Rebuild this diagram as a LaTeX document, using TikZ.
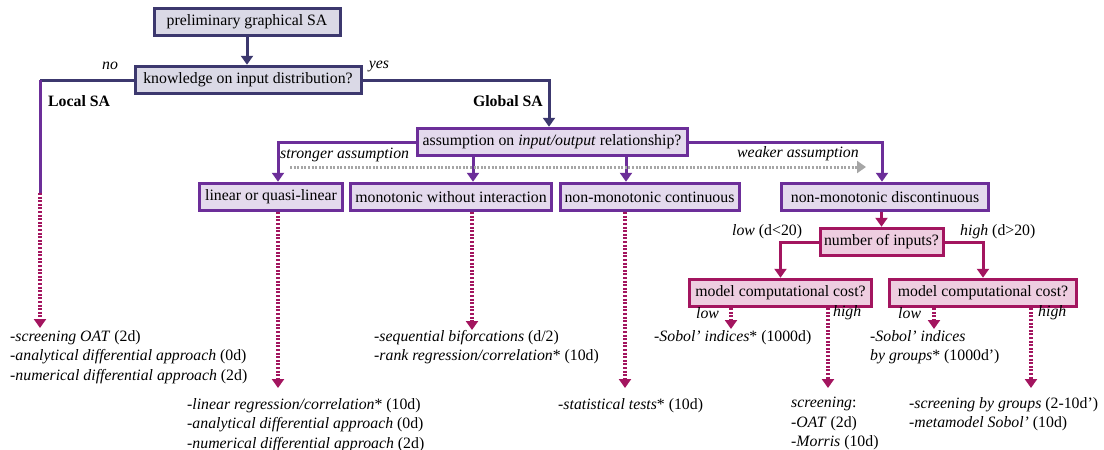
\documentclass[tikz,border=0pt]{standalone}
\usepackage{fontspec}
\setmainfont{Liberation Serif}
\usetikzlibrary{arrows.meta}
\definecolor{navy}{HTML}{3C386E}
\definecolor{navyfill}{HTML}{DAD9E6}
\definecolor{purp}{HTML}{6C2E99}
\definecolor{purpfill}{HTML}{E4DAED}
\definecolor{mag}{HTML}{A3155F}
\definecolor{magfill}{HTML}{EECDE0}
\definecolor{lightgray}{HTML}{A6A6A6}
\begin{document}
\begin{tikzpicture}[x=1pt,y=-1pt,
  every node/.style={font=\fontsize{15.8}{19.6}\selectfont, inner sep=0pt},
  box/.style={draw, line width=3pt, minimum height=27.5pt, anchor=center},
  navybox/.style={box, draw=navy, fill=navyfill},
  purpbox/.style={box, draw=purp, fill=purpfill},
  magbox/.style={box, draw=mag, fill=magfill},
  tip/.style={-{Triangle[width=12pt,length=9pt]}},
  conn/.style={line width=3pt},
  navyline/.style={conn, draw=navy},
  purpline/.style={conn, draw=purp},
  magline/.style={conn, draw=mag},
  magdots/.style={line width=3.2pt, draw=mag, dash pattern=on 2pt off 1.6pt},
  graydots/.style={line width=3pt, draw=lightgray, dash pattern=on 2pt off 1.6pt},
  lbl/.style={font=\fontsize{15.8}{19.6}\selectfont\itshape},
  txt/.style={align=left, anchor=north west},
]
\useasboundingbox (0,0) rectangle (1104,450);

% decision boxes
\node[navybox, minimum width=186pt] (pre) at (247,22) {preliminary graphical SA};
\node[navybox, minimum width=226pt] (know) at (248,80) {knowledge on input distribution?};
\node[purpbox, minimum width=270pt] (assump) at (552,142) {assumption on \textit{input/output} relationship?};
\node[purpbox, minimum width=143pt] (lin) at (271,197) {linear or quasi-linear};
\node[purpbox, minimum width=201pt] (mono) at (451,197) {monotonic without interaction};
\node[purpbox, minimum width=179pt] (cont) at (649.5,197) {non-monotonic continuous};
\node[purpbox, minimum width=207pt] (disc) at (885,197) {non-monotonic discontinuous};
\node[magbox, minimum width=123pt] (num) at (881.5,242) {number of inputs?};
\node[magbox, minimum width=182pt] (cost1) at (780.5,293) {model computational cost?};
\node[magbox, minimum width=187pt] (cost2) at (983,293) {model computational cost?};

% helper points
\coordinate (lcorner) at (40,80);
\coordinate (lmid) at (40,193);
\coordinate (ltip) at (40,328);
\coordinate (gcorner) at (549,80);
\coordinate (scorner) at (278,142);
\coordinate (wcorner) at (882,142);
\coordinate (xm) at (473,0);
\coordinate (xc) at (626,0);
\coordinate (ga) at (290,167);
\coordinate (gb) at (866,167);
\coordinate (t1) at (278,388);
\coordinate (t2) at (472,330);
\coordinate (t3) at (625,388);
\coordinate (t4) at (731,329);
\coordinate (t5) at (828,388);
\coordinate (t6) at (934,329);
\coordinate (t7) at (1031,388);

% solid connectors
\draw[navyline, tip] (pre.south) -- (pre.south |- know.north);
\draw[navyline] (know.west) -- (lcorner);
\draw[purpline] (lcorner) -- (lmid);
\draw[magdots, tip] (lmid) -- (ltip);
\draw[navyline, tip] (know.east) -- (gcorner) -- (gcorner |- assump.north);
\draw[purpline, tip] (assump.west) -- (scorner) -- (scorner |- lin.north);
\draw[purpline, tip] (assump.south -| xm) -- (mono.north -| xm);
\draw[purpline, tip] (assump.south -| xc) -- (cont.north -| xc);
\draw[purpline, tip] (assump.east) -- (wcorner) -- (wcorner |- disc.north);
\draw[graydots, tip] (ga) -- (gb);
\draw[magline, tip] (num.north |- disc.south) -- (num.north);
\draw[magline, tip] (num.west) -| (cost1.north);
\draw[magline, tip] (num.east) -| (cost2.north);

% dotted connectors to the methods
\draw[magdots, tip] (lin.south -| t1) -- (t1);
\draw[magdots, tip] (mono.south -| t2) -- (t2);
\draw[magdots, tip] (cont.south -| t3) -- (t3);
\draw[magdots, tip] (cost1.south -| t4) -- (t4);
\draw[magdots, tip] (cost1.south -| t5) -- (t5);
\draw[magdots, tip] (cost2.south -| t6) -- (t6);
\draw[magdots, tip] (cost2.south -| t7) -- (t7);

% branch labels
\node[lbl] (no) at (110,66) {no};
\node[lbl] (yes) at (379,66) {yes};
\node[font=\fontsize{15.8}{19.6}\selectfont\bfseries, anchor=west] (local) at (48,101) {Local SA};
\node[font=\fontsize{15.8}{19.6}\selectfont\bfseries, anchor=east] (global) at (543,101) {Global SA};
\node[lbl, anchor=west] (strong) at (280,155) {stronger assumption};
\node[lbl, anchor=west] (weak) at (737,154) {weaker assumption};
\node[anchor=west] (low1) at (732,232) {\textit{low} (d<20)};
\node[anchor=west] (high1) at (960,232) {\textit{high} (d>20)};
\node[lbl, anchor=west] (low2) at (696,313) {low};
\node[lbl, anchor=west] (high2) at (833,313) {high};
\node[lbl, anchor=west] (low3) at (898,313) {low};
\node[lbl, anchor=west] (high3) at (1038,313) {high};

% methods
\node[txt] (mloc) at (10,330) {-\textit{screening OAT} (2d)\\-\textit{analytical differential approach} (0d)\\-\textit{numerical differential approach} (2d)};
\node[txt] (mlin) at (187,398) {-\textit{linear regression/correlation}* (10d)\\-\textit{analytical differential approach} (0d)\\-\textit{numerical differential approach} (2d)};
\node[txt] (mmono) at (374,330) {-\textit{sequential biforcations} (d/2)\\-\textit{rank regression/correlation}* (10d)};
\node[txt] (mcont) at (558,398) {-\textit{statistical tests}* (10d)};
\node[txt] (msob) at (654,330) {-\textit{Sobol’ indices}* (1000d)};
\node[txt] (mscr) at (791,397) {\textit{screening}:\\-\textit{OAT} (2d)\\-\textit{Morris} (10d)};
\node[txt] (msobg) at (870,330) {-\textit{Sobol’ indices}\\\textit{by groups}* (1000d’)};
\node[txt] (mscg) at (909,397) {-\textit{screening by groups} (2-10d’)\\-\textit{metamodel Sobol’} (10d)};
\end{tikzpicture}
\end{document}
